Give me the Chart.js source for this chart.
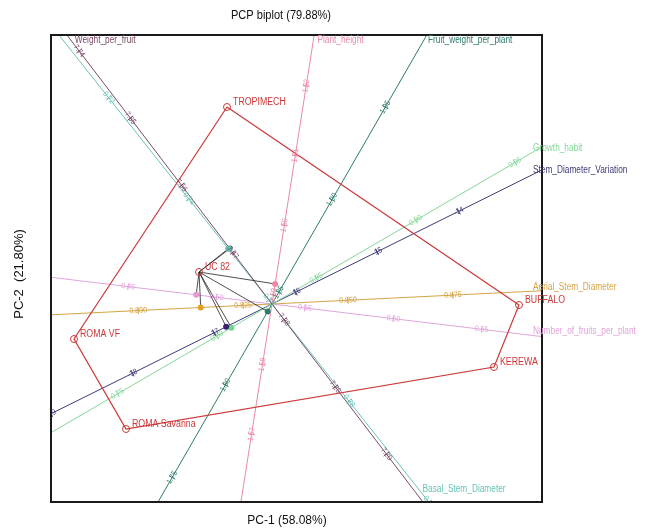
<!DOCTYPE html>
<html>
<head>
<meta charset="utf-8">
<script src="https://cdn.jsdelivr.net/npm/chart.js"></script>
<style>
  html, body { margin: 0; background: #fff; }
  #wrap { width: 645px; height: 532px; }
</style>
</head>
<body>
<div id="wrap"><canvas id="biplot"></canvas></div>
<script>
// genotype scores
const genotypes = ["TROPIMECH", "BUFFALO", "KEREWA", "ROMA Savanna", "ROMA VF", "UC 82"];
const pc1 = [-0.45, 2.47, 2.22, -1.46, -1.98, -0.73];
const pc2 = [1.97, -0.01, -0.63, -1.25, -0.35, 0.32];
const hullOrder = ["TROPIMECH", "BUFFALO", "KEREWA", "ROMA Savanna", "ROMA VF", "TROPIMECH"];
const focus = "UC 82";

// variable axes (unit loadings)
const variables = ["Weight_per_fruit", "Basal_Stem_Diameter", "Plant_height", "Fruit_weight_per_plant",
  "Growth_habit", "Stem_Diameter_Variation", "Aerial_Stem_Diameter", "Number_of_fruits_per_plant"];
const loadX = [-0.606, 0.621, 0.155, 0.499, 0.864, 0.896, 0.999, 0.993];
const loadY = [0.795, -0.784, 0.988, 0.867, 0.503, 0.445, 0.049, -0.120];
// calibration: value at the origin and axis units per unit of value
const calibAt0 = [7.401, 0.7608, 1.5887, 1.8437, 0.8277, -16.29, 0.8319, 0.5314];
const calibScale = [9.39, 64.5, 70.5, 21.36, 23.0, 0.91, 42.0, 17.8];
const tickLabels = [
  ["7.20", "7.29", "7.38", "7.47", "7.56", "7.65", "7.74"],
  ["0.72", "0.74", "0.76", "0.78", "0.80"],
  ["1.57", "1.58", "1.59", "1.60", "1.61", "1.62"],
  ["1.75", "1.80", "1.85", "1.90", "1.95"],
  ["0.75", "0.80", "0.85", "0.90", "0.95"],
  ["-19", "-18", "-17", "-16", "-15", "-14"],
  ["0.800", "0.825", "0.850", "0.875"],
  ["0.45", "0.50", "0.55", "0.60", "0.65"]
];

const varColors = ["#7b4a68", "#68c4b8", "#e98aa8", "#2f7a6b", "#86d699", "#3d3a78", "#d6a444", "#e3a5dc"];
const dotColors = ["#7a8686", "#5fb8ad", "#ef86a2", "#2a7d6c", "#6fd68a", "#3b1f6e", "#e3a124", "#e59ad6"];
const RED = "#cc3838";
const FONT = '"Liberation Sans", Arial, sans-serif';

function txt(ctx, s, x, y, size, color, align, squeeze, rot) {
  ctx.save();
  ctx.translate(x, y);
  if (rot) ctx.rotate(rot);
  ctx.scale(squeeze || 1, 1);
  ctx.font = size + "px " + FONT;
  ctx.fillStyle = color;
  ctx.textAlign = align || "left";
  ctx.textBaseline = "middle";
  ctx.fillText(s, 0, 0);
  ctx.restore();
}

const fi = genotypes.indexOf(focus);
const fx = pc1[fi], fy = pc2[fi];
const feet = variables.map((v, i) => {
  const d = fx * loadX[i] + fy * loadY[i];
  return { x: d * loadX[i], y: d * loadY[i] };
});

const datasets = [];
datasets.push({
  data: genotypes.map((g, i) => ({ x: pc1[i], y: pc2[i] })),
  pointRadius: 3.5, pointBorderColor: RED, pointBackgroundColor: "rgba(0,0,0,0)",
  pointBorderWidth: 1, order: 0
});
datasets.push({
  data: feet, pointRadius: 3, pointBackgroundColor: dotColors, pointBorderWidth: 0, order: 1
});
feet.forEach(f => datasets.push({
  data: [{ x: fx, y: fy }, f], showLine: true, borderColor: "#222", borderWidth: 0.8,
  pointRadius: 0, order: 2
}));
datasets.push({
  data: hullOrder.map(n => { const i = genotypes.indexOf(n); return { x: pc1[i], y: pc2[i] }; }),
  showLine: true, borderColor: RED, borderWidth: 1.2, pointRadius: 0, order: 3
});
variables.forEach((v, i) => datasets.push({
  data: [{ x: -10 * loadX[i], y: -10 * loadY[i] }, { x: 10 * loadX[i], y: 10 * loadY[i] }],
  showLine: true, borderColor: varColors[i], borderWidth: 1, pointRadius: 0, order: 4
}));

const biplotText = {
  id: "biplotText",
  beforeDraw(chart) {
    const c = chart.ctx;
    c.save();
    c.fillStyle = "#fff";
    c.fillRect(0, 0, chart.width, chart.height);
    c.restore();
  },
  afterDatasetsDraw(chart) {
    const { ctx, chartArea: a, scales: { x, y } } = chart;
    const ox = x.getPixelForValue(0), oy = y.getPixelForValue(0);

    // calibration ticks
    ctx.save();
    ctx.beginPath();
    ctx.rect(a.left, a.top, a.right - a.left, a.bottom - a.top);
    ctx.clip();
    variables.forEach((v, i) => {
      const ux = loadX[i], uy = loadY[i];
      let rot = Math.atan2(-uy, ux);
      if (rot > Math.PI / 2) rot -= Math.PI;
      if (rot < -Math.PI / 2) rot += Math.PI;
      tickLabels[i].forEach(lab => {
        const d = (parseFloat(lab) - calibAt0[i]) * calibScale[i];
        const px = x.getPixelForValue(d * ux), py = y.getPixelForValue(d * uy);
        ctx.strokeStyle = varColors[i];
        ctx.lineWidth = 1;
        ctx.beginPath();
        ctx.moveTo(px - 3.5 * uy, py - 3.5 * ux);
        ctx.lineTo(px + 3.5 * uy, py + 3.5 * ux);
        ctx.stroke();
        txt(ctx, lab, px, py, 8, varColors[i], "center", 0.88, rot);
      });
    });
    ctx.restore();

    // frame
    ctx.save();
    ctx.strokeStyle = "#1a1a1a";
    ctx.lineWidth = 2;
    ctx.strokeRect(a.left, a.top, a.right - a.left, a.bottom - a.top);
    ctx.restore();

    // variable names at the positive end of each axis
    variables.forEach((v, i) => {
      const ux = loadX[i], uy = loadY[i];
      const tR = ux > 0 ? (a.right - ox) / ux : Infinity;
      const tL = ux < 0 ? (a.left - ox) / ux : Infinity;
      const tT = uy > 0 ? (oy - a.top) / uy : Infinity;
      const tB = uy < 0 ? (a.bottom - oy) / -uy : Infinity;
      const t = Math.min(tR, tL, tT, tB);
      let lx, ly;
      if (t === tT) { ly = a.top + 5; lx = ox + ux * (oy - ly) / uy + 4; }
      else if (t === tB) { ly = a.bottom - 13; lx = ox + ux * (ly - oy) / -uy + 4; }
      else { lx = a.right - 9; ly = oy - uy * (lx - ox) / ux - 4; }
      txt(ctx, v, lx, ly, 10, varColors[i], "left", 0.83);
    });

    // genotype names
    genotypes.forEach((g, i) => {
      txt(ctx, g, x.getPixelForValue(pc1[i]) + 6, y.getPixelForValue(pc2[i]) - 5, 10, RED, "left", 0.88);
    });

    // titles
    txt(ctx, "PCP biplot (79.88%)", 281, 16, 12, "#111", "center", 0.92);
    txt(ctx, "PC-1 (58.08%)", 287, 521, 12, "#111", "center", 1);
    txt(ctx, "PC-2  (21.80%)", 19, 274, 13, "#111", "center", 1, -Math.PI / 2);
  }
};

new Chart(document.getElementById("biplot"), {
  type: "scatter",
  data: { datasets: datasets },
  options: {
    responsive: true,
    maintainAspectRatio: false,
    animation: false,
    layout: { padding: { left: 51, top: 35, right: 103, bottom: 30 } },
    plugins: { legend: { display: false }, tooltip: { enabled: false }, title: { display: false } },
    scales: {
      x: { type: "linear", min: -2.21, max: 2.70, display: false },
      y: { type: "linear", min: -1.98, max: 2.69, display: false }
    }
  },
  plugins: [biplotText]
});
</script>
</body>
</html>
